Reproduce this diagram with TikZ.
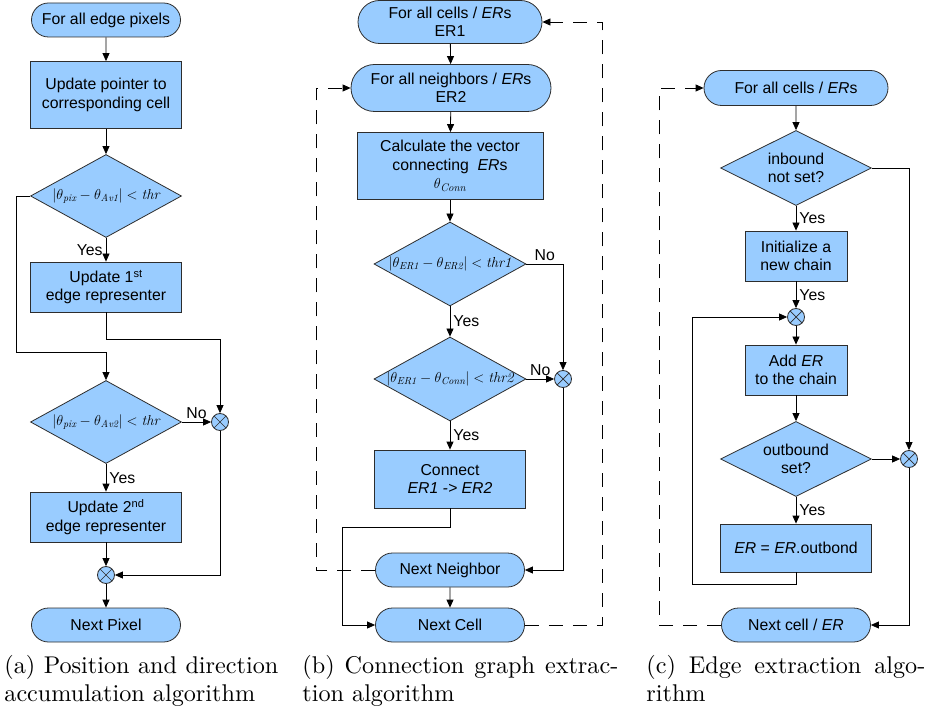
\documentclass[tikz,border=0pt]{standalone}
\usepackage{fontspec}
\newfontfamily\chartfont{Liberation Sans}
\newfontfamily\capfont{lmroman10-regular}[Extension=.otf]
\definecolor{myblue}{RGB}{153,204,255}
\definecolor{mygray}{RGB}{45,45,45}
\usetikzlibrary{shapes,arrows.meta,calc}

% threshold tests inside the diamonds
\newcommand{\thtest}[3]{{\fontsize{14.5}{16}\selectfont$\bigl|\theta_{\mathit{#1}}-\theta_{\mathit{#2}}\bigr|<\mathit{#3}$}}

\begin{document}
\begin{tikzpicture}[x=1pt,y=-1pt,line width=0.8pt,
  every node/.style={font=\chartfont\fontsize{15.8}{18.5}\selectfont,align=center},
  box/.style={draw=mygray,fill=myblue,minimum width=151pt,minimum height=50pt,inner sep=2pt},
  term/.style={draw=mygray,fill=myblue,rounded rectangle,minimum width=151pt,minimum height=34pt,inner sep=1pt},
  cond/.style={draw=mygray,fill=myblue,diamond,aspect=1.8,minimum width=151pt,minimum height=83pt,inner sep=-3pt},
  merge/.style={draw=mygray,fill=myblue,circle,minimum size=17pt,inner sep=0pt,
    path picture={\draw[line width=0.7pt]
      (path picture bounding box.north west) -- (path picture bounding box.south east)
      (path picture bounding box.south west) -- (path picture bounding box.north east);}},
  arr/.style={-{Triangle[length=8pt,width=7pt]}},
  loopback/.style={arr,dash pattern=on 14pt off 10pt},
  lbl/.style={inner sep=3pt},
  caption/.style={font=\capfont\fontsize{24.2}{27.5}\selectfont,align=justify,anchor=north west,inner sep=0pt}
  ]
  \useasboundingbox (0,0) rectangle (934,708);

  % (a) position and direction accumulation
  \node[term] (a1) at (106,20) {For all edge pixels};
  \node[box,minimum height=67pt] (a2) at (106,95) {Update pointer to\\corresponding cell};
  \node[cond] (a3) at (106,196) {\thtest{pix}{Av1}{thr}};
  \node[box] (a4) at (106,287) {Update 1\textsuperscript{st}\\edge representer};
  \node[cond] (a5) at (106,422) {\thtest{pix}{Av2}{thr}};
  \node[merge] (a6) at (220,422) {};
  \node[box] (a7) at (106,517) {Update 2\textsuperscript{nd}\\edge representer};
  \node[merge] (a8) at (106,575) {};
  \node[term] (a9) at (106,625) {Next Pixel};

  \draw[arr] (a1) -- (a2);
  \draw[arr] (a2) -- (a3);
  \draw[arr] (a3) -- node[lbl,left] {Yes} (a4);
  \draw[arr] (a3.west) -- ++(-14,0) |- ([yshift=28pt]a5.north) -- (a5.north);
  \draw[arr] (a4.south) -- ++(0,27) -| (a6.north);
  \draw[arr] (a5) -- node[lbl,above] {No} (a6);
  \draw[arr] (a5) -- node[lbl,right] {Yes} (a7);
  \draw[arr] (a7) -- (a8);
  \draw[arr] (a6) |- (a8);
  \draw[arr] (a8) -- (a9);

  % (b) connection graph extraction
  \node[term,minimum width=186pt,minimum height=43pt] (b1) at (450,22) {For all cells / \textit{ER}s\\ER1};
  \node[term,minimum width=202pt,minimum height=47pt] (b2) at (451,88) {For all neighbors / \textit{ER}s\\ER2};
  \node[box,minimum width=186pt,minimum height=67pt] (b3) at (450,166) {Calculate the vector\\connecting \ \textit{ER}s\\$\theta_{\mathit{Conn}}$};
  \node[cond,minimum width=152pt,minimum height=84pt] (b4) at (450,264) {\thtest{ER1}{ER2}{thr1}};
  \node[cond,minimum width=152pt,minimum height=84pt] (b5) at (450,379) {\thtest{ER1}{Conn}{thr2}};
  \node[merge] (b6) at (563,379) {};
  \node[box,minimum height=58pt] (b7) at (450,479) {Connect\\\textit{ER1 -> ER2}};
  \node[term] (b8) at (450,570) {Next Neighbor};
  \node[term] (b9) at (450,625) {Next Cell};

  \draw[arr] (b1) -- (b2);
  \draw[arr] (b2) -- (b3);
  \draw[arr] (b3) -- (b4);
  \draw[arr] (b4.east) -| node[lbl,above,pos=0.25] {No} (b6.north);
  \draw[arr] (b4) -- node[lbl,right] {Yes} (b5);
  \draw[arr] (b5) -- node[lbl,above] {No} (b6);
  \draw[arr] (b5) -- node[lbl,right] {Yes} (b7);
  \draw[arr] (b7.south) -- ++(0,19) -| ([xshift=-33pt]b9.west) -- (b9.west);
  \draw[arr] (b6) |- (b8);
  \draw[arr] (b8) -- (b9);
  \draw[loopback] (b8.west) -| ([xshift=-34pt]b2.west) -- (b2.west);
  \draw[loopback] (b9.east) -| ([xshift=60pt]b1.east) -- (b1.east);

  % (c) edge extraction
  \node[term,minimum width=186pt,minimum height=35pt] (c1) at (796,88) {For all cells / \textit{ER}s};
  \node[cond,minimum height=75pt] (c2) at (796,168) {inbound\\not set?};
  \node[box,minimum width=102pt] (c3) at (796,256) {Initialize a\\new chain};
  \node[merge] (c4) at (796,317) {};
  \node[box,minimum width=102pt] (c5) at (796,370) {Add \textit{ER}\\to the chain};
  \node[cond,minimum height=75pt] (c6) at (796,459) {outbound\\set?};
  \node[merge] (c7) at (909,459) {};
  \node[box,minimum height=48pt] (c8) at (796,548) {\textit{ER} = \textit{ER}.outbond};
  \node[term] (c9) at (796,625) {Next cell / \textit{ER}};

  \draw[arr] (c1) -- (c2);
  \draw[arr] (c2) -- node[lbl,right] {Yes} (c3);
  \draw[arr] (c3) -- node[lbl,right] {Yes} (c4);
  \draw[arr] (c4) -- (c5);
  \draw[arr] (c5) -- (c6);
  \draw[arr] (c6) -- (c7);
  \draw[arr] (c6) -- node[lbl,right] {Yes} (c8);
  \draw[arr] (c2.east) -| (c7.north);
  \draw[arr] (c8.south) -- ++(0,12) -| ([xshift=-28pt]c8.west) |- (c4.west);
  \draw[arr] (c7) |- (c9);
  \draw[loopback] (c9.west) -| ([xshift=-44pt]c1.west) -- (c1.west);

  % captions
  \node[caption,text width=274pt] (capa) at (4,655) {(a) Position and direction\linebreak accumulation algorithm};
  \node[caption,text width=316pt] (capb) at (302,655) {(b) Connection graph extrac-\linebreak tion algorithm};
  \node[caption,text width=279pt] (capc) at (646,655) {(c) Edge extraction algo-\linebreak rithm};
\end{tikzpicture}
\end{document}
